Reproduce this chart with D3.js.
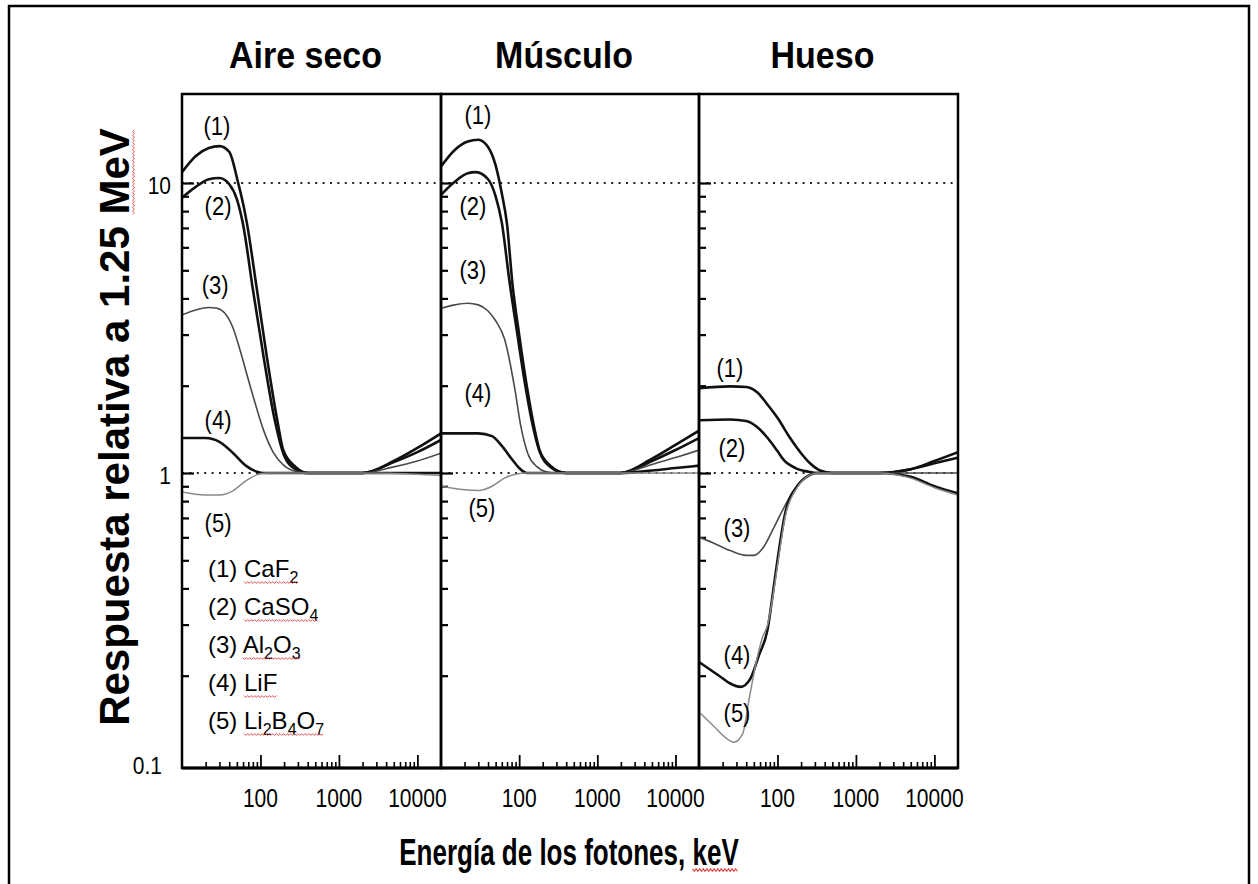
<!DOCTYPE html>
<html>
<head>
<meta charset="utf-8">
<script src="https://cdn.jsdelivr.net/npm/d3@7"></script>
<style>
  body { margin: 0; background: #fff; }
  svg { display: block; }
  text { font-family: "Liberation Sans", Arial, sans-serif; fill: #000; }
</style>
</head>
<body>
<svg id="chart" width="1258" height="884"></svg>
<script>
// panel titles and curve labels
const panelTitles = ["Aire seco", "Músculo", "Hueso"];
const curveNames = ["(1)", "(2)", "(3)", "(4)", "(5)"];
// legend: "_" marks the next digit as subscript
const materials = ["CaF_2", "CaSO_4", "Al_2O_3", "LiF", "Li_2B_4O_7"];

const xTickLabels = [100, 1000, 10000];
const yTickLabels = [0.1, 1, 10];
const refLines = [1, 10];

// [energy keV, relative response]
const aireSeco = [
  [[10,10.9],[15,12.4],[22,13.2],[30,13.4],[40,12.8],[52,10.0],[60,8.5],[67,7.3],[90,4.3],[121,2.5],[166,1.49],[195,1.2],[280,1.05],[400,1.0],[2000,1.0],[5000,1.1],[10000,1.22],[20000,1.37]],
  [[10,8.9],[15,9.7],[22,10.3],[30,10.4],[40,9.9],[50,8.8],[60,7.2],[80,4.3],[110,2.5],[150,1.55],[200,1.15],[280,1.03],[400,1.0],[2000,1.0],[5000,1.09],[10000,1.18],[20000,1.3]],
  [[10,3.51],[15,3.65],[22,3.72],[28,3.7],[35,3.56],[45,3.15],[55,2.65],[70,2.1],[85,1.75],[110,1.4],[145,1.18],[200,1.06],[300,1.01],[450,1.0],[2000,1.0],[5000,1.05],[10000,1.1],[20000,1.17]],
  [[10,1.32],[20,1.32],[30,1.28],[45,1.17],[65,1.06],[90,1.01],[110,1.0],[2000,1.0],[20000,1.0]],
  [[10,0.86],[20,0.84],[30,0.84],[45,0.87],[65,0.94],[90,0.985],[120,1.0],[2000,1.0],[10000,0.99],[20000,0.98]]
];
const musculo = [
  [[10,11.4],[15,13.0],[22,13.9],[30,14.1],[40,13.3],[50,11.5],[60,9.2],[70,7.2],[82,4.5],[100,3.0],[125,2.0],[158,1.41],[182,1.2],[250,1.06],[400,1.0],[2000,1.0],[5000,1.12],[10000,1.25],[20000,1.4]],
  [[10,9.1],[15,10.1],[22,10.8],[28,10.9],[40,10.3],[50,9.0],[60,7.3],[75,4.6],[95,3.0],[120,2.0],[150,1.45],[180,1.2],[250,1.05],[400,1.0],[2000,1.0],[5000,1.1],[10000,1.2],[20000,1.32]],
  [[10,3.7],[15,3.8],[22,3.85],[30,3.8],[40,3.62],[50,3.35],[65,2.9],[88,1.95],[105,1.45],[130,1.16],[170,1.05],[220,1.01],[300,1.0],[2000,1.0],[5000,1.07],[10000,1.13],[20000,1.2]],
  [[10,1.37],[30,1.37],[45,1.34],[60,1.24],[80,1.12],[100,1.04],[125,1.0],[2000,1.0],[5000,1.02],[10000,1.04],[20000,1.06]],
  [[10,0.9],[20,0.875],[30,0.87],[45,0.9],[65,0.96],[90,0.99],[125,1.0],[2000,1.0],[20000,1.0]]
];
const hueso = [
  [[10,1.96],[25,1.99],[40,1.98],[55,1.9],[75,1.72],[100,1.55],[145,1.32],[200,1.17],[260,1.08],[350,1.02],[500,1.0],[2000,1.0],[5000,1.03],[10000,1.1],[20000,1.18]],
  [[10,1.52],[25,1.53],[40,1.51],[55,1.44],[75,1.32],[100,1.19],[120,1.11],[170,1.04],[250,1.01],[320,1.0],[2000,1.0],[5000,1.03],[10000,1.08],[20000,1.13]],
  [[10,0.6],[15,0.575],[25,0.54],[40,0.52],[50,0.52],[65,0.55],[88,0.64],[115,0.74],[145,0.83],[210,0.95],[300,1.0],[2000,1.0],[20000,1.0]],
  [[10,0.223],[18,0.2],[25,0.188],[34,0.183],[45,0.195],[58,0.235],[75,0.29],[88,0.39],[99,0.49],[126,0.73],[178,0.9],[250,0.98],[320,1.0],[2000,1.0],[5000,0.97],[10000,0.9],[20000,0.85]],
  [[10,0.15],[15,0.135],[22,0.122],[28,0.118],[36,0.126],[44,0.169],[55,0.23],[64,0.27],[75,0.3],[88,0.38],[99,0.47],[126,0.71],[178,0.89],[250,0.98],[320,1.0],[2000,1.0],[5000,0.96],[10000,0.89],[20000,0.84]]
];
const panelData = [aireSeco, musculo, hueso];

// where the "(n)" labels sit, in data units [keV, response]
const labelAt = [
  [[27.9,14.6],[28.8,7.76],[26.4,4.14],[28.8,1.42],[28.8,0.626]],
  [[29.7,16.0],[25.6,7.76],[25.6,4.67],[29.7,1.76],[33.4,0.705]],
  [[24.8,2.14],[26.3,1.136],[30.5,0.602],[30.5,0.2195],[30.5,0.1384]]
];

const svg = d3.select("#chart");
const plotTop = 94, plotBottom = 768;
const panelEdges = [182, 441, 699, 958];

// stroke per curve number
const curveStyle = [
  { stroke: "#111", width: 2.6 },
  { stroke: "#111", width: 2.6 },
  { stroke: "#4a4a4a", width: 1.6 },
  { stroke: "#111", width: 2.6 },
  { stroke: "#8a8a8a", width: 1.5 }
];

const y = d3.scaleLog().domain([0.1, 10]).range([763, 183]);

function squiggle(g, x0, x1, yy) {
  const pts = [];
  for (let x = x0, i = 0; x <= x1; x += 1.8, i++) pts.push([x, yy + (i % 2 ? 1.4 : -0.4)]);
  g.append("path").attr("d", d3.line()(pts))
    .attr("fill", "none").attr("stroke", "#e23a3a").attr("stroke-width", 0.9);
}

// outer frame
svg.append("rect").attr("x", 9).attr("y", 6).attr("width", 1240).attr("height", 920)
  .attr("fill", "none").attr("stroke", "#000").attr("stroke-width", 2.5);

panelData.forEach((series, p) => {
  const x0 = panelEdges[p], x1 = panelEdges[p + 1];
  const x = d3.scaleLog().domain([10, 20000]).range([x0, x1]);
  const g = svg.append("g").attr("class", "panel");

  g.append("clipPath").attr("id", "clip" + p)
    .append("rect").attr("x", x0).attr("y", plotTop).attr("width", x1 - x0).attr("height", plotBottom - plotTop);

  // dotted reference lines at 1 and 10
  g.selectAll(".ref").data(refLines).enter().append("line")
    .attr("class", "ref")
    .attr("x1", x0).attr("x2", x1)
    .attr("y1", d => y(d)).attr("y2", d => y(d))
    .attr("stroke", "#222").attr("stroke-width", 2.2)
    .attr("stroke-dasharray", "2,5.4");

  // inner ticks, left side
  const yt = y.ticks().filter(d => d > 0.1);
  const major = d => Math.abs(Math.log10(d) - Math.round(Math.log10(d))) < 1e-9;
  g.append("g").attr("transform", `translate(${x0},0)`)
    .call(d3.axisRight(y).tickValues(yt.filter(d => !major(d))).tickSize(7).tickFormat(""))
    .call(a => a.select(".domain").remove())
    .selectAll("line").attr("stroke-width", 2.2);
  g.append("g").attr("transform", `translate(${x0},0)`)
    .call(d3.axisRight(y).tickValues(yt.filter(major)).tickSize(12).tickFormat(""))
    .call(a => a.select(".domain").remove())
    .selectAll("line").attr("stroke-width", 2.2);

  // inner ticks, bottom
  const xt = x.ticks().filter(d => d > 10 && d <= 10000);
  g.append("g").attr("transform", `translate(0,${plotBottom})`)
    .call(d3.axisTop(x).tickValues(xt.filter(d => !major(d))).tickSize(6).tickFormat(""))
    .call(a => a.select(".domain").remove())
    .selectAll("line").attr("stroke-width", 1.6);
  g.append("g").attr("transform", `translate(0,${plotBottom})`)
    .call(d3.axisTop(x).tickValues(xt.filter(major)).tickSize(13).tickFormat(""))
    .call(a => a.select(".domain").remove())
    .selectAll("line").attr("stroke-width", 1.8);

  // curves
  const line = d3.line().x(d => x(d[0])).y(d => y(d[1])).curve(d3.curveMonotoneX);
  g.append("g").attr("clip-path", `url(#clip${p})`)
    .selectAll("path").data(series).enter().append("path")
    .attr("d", line)
    .attr("fill", "none")
    .attr("stroke", (d, i) => curveStyle[i].stroke)
    .attr("stroke-width", (d, i) => curveStyle[i].width)
    .attr("stroke-linejoin", "round");

  // curve labels
  g.selectAll(".clab").data(labelAt[p]).enter().append("text")
    .attr("class", "clab")
    .attr("transform", d => `translate(${x(d[0])},${y(d[1])}) scale(1,1.18)`)
    .attr("text-anchor", "middle")
    .attr("font-size", 22)
    .text((d, i) => curveNames[i]);

  // frame
  g.append("rect").attr("x", x0).attr("y", plotTop).attr("width", x1 - x0).attr("height", plotBottom - plotTop)
    .attr("fill", "none").attr("stroke", "#000").attr("stroke-width", 2.5);
  g.append("line").attr("x1", x0).attr("x2", x1).attr("y1", plotBottom).attr("y2", plotBottom)
    .attr("stroke", "#000").attr("stroke-width", 3.2);

  // x tick labels
  g.selectAll(".xlab").data(xTickLabels).enter().append("text")
    .attr("class", "xlab")
    .attr("transform", d => `translate(${x(d)},807) scale(1,1.25)`)
    .attr("text-anchor", "middle")
    .attr("font-size", 21)
    .text(d => d);

  // title
  g.append("text")
    .attr("transform", `translate(${(x0 + x1) / 2 - 6},68) scale(1,1.1)`)
    .attr("text-anchor", "middle")
    .attr("font-size", 34).attr("font-weight", "bold")
    .text(panelTitles[p]);
});

// y tick labels
svg.selectAll(".ylab").data(yTickLabels).enter().append("text")
  .attr("class", "ylab")
  .attr("transform", d => `translate(${d < 1 ? 162 : 171},${y(d) + 11}) scale(1,1.1)`)
  .attr("text-anchor", "end")
  .attr("font-size", 21)
  .text(d => d);

// y axis title
const yTitleG = svg.append("g").attr("transform", "translate(129,427) rotate(-90)");
const yTitle = yTitleG.append("text")
  .attr("text-anchor", "middle")
  .attr("font-size", 42).attr("font-weight", "bold")
  .text("Respuesta relativa a 1.25 MeV");
{
  const n = yTitle.node(), len = n.getNumberOfChars();
  squiggle(yTitleG, n.getStartPositionOfChar(len - 3).x, n.getEndPositionOfChar(len - 1).x, 4);
}

// x axis title
const xTitleG = svg.append("g").attr("transform", "translate(569,865) scale(1,1.45)");
const xTitle = xTitleG.append("text")
  .attr("text-anchor", "middle")
  .attr("font-size", 26).attr("font-weight", "bold")
  .text("Energía de los fotones, keV");
{
  const n = xTitle.node(), len = n.getNumberOfChars();
  squiggle(xTitleG, n.getStartPositionOfChar(len - 3).x, n.getEndPositionOfChar(len - 1).x, 3);
}

// legend inside the first panel
const legend = svg.append("g").attr("class", "legend");
materials.forEach((m, i) => {
  const by = 577 + i * 38;
  const t = legend.append("text").attr("x", 208).attr("y", by).attr("font-size", 24);
  t.append("tspan").text(curveNames[i] + " ");
  let sub = false;
  for (let k = 0; k < m.length; k++) {
    const ch = m[k];
    if (ch === "_") continue;
    const isSub = k > 0 && m[k - 1] === "_";
    const ts = t.append("tspan").text(ch);
    if (isSub) { ts.attr("font-size", 16).attr("dy", sub ? 0 : 6); sub = true; }
    else if (sub) { ts.attr("dy", -6); sub = false; }
  }
  const n = t.node();
  const start = n.getStartPositionOfChar(4).x;
  const end = n.getEndPositionOfChar(n.getNumberOfChars() - 1).x;
  squiggle(legend, start, end, by + 5);
});
</script>
</body>
</html>
